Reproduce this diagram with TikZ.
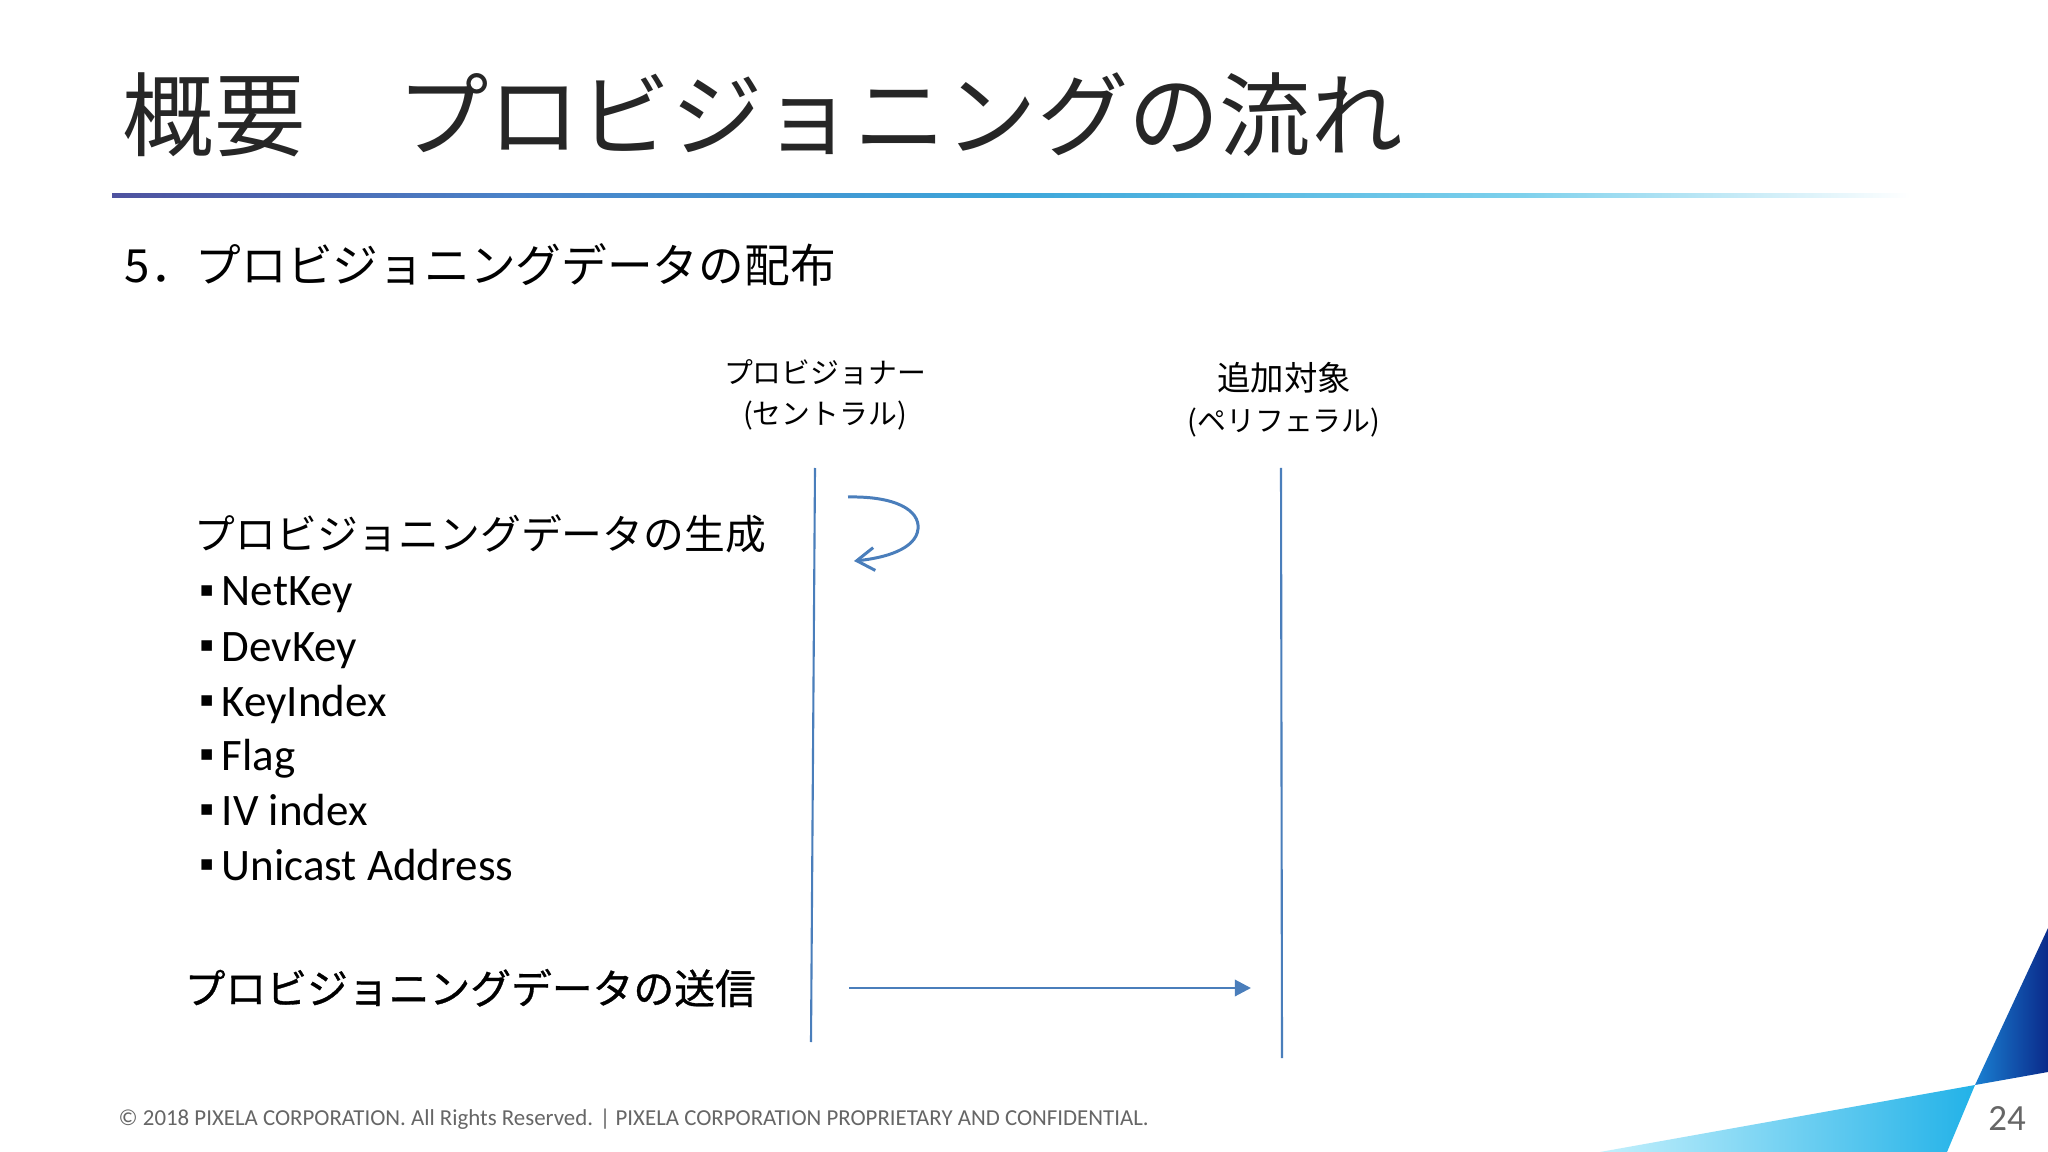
\documentclass[tikz,border=0pt]{standalone}
\usepackage{fontspec}
\setmainfont{Carlito}
\newfontfamily\jpfont{Noto Sans CJK JP}
\newfontfamily\jpfontdick{Noto Sans CJK JP}[FakeBold=0.8]
\newfontfamily\zeichenfont{DejaVu Sans}
\usetikzlibrary{arrows.meta}

\definecolor{linienblau}{HTML}{4A7EBB}
\definecolor{titelgrau}{HTML}{262626}
\definecolor{fussgrau}{HTML}{666666}
\definecolor{rA}{HTML}{4E529F}
\definecolor{rB}{HTML}{4A82C8}
\definecolor{rC}{HTML}{3CA6DA}
\definecolor{rD}{HTML}{7CD0EC}
\definecolor{dunkelL}{HTML}{1A80D2}
\definecolor{dunkelR}{HTML}{0A2A8A}
\definecolor{hellL}{HTML}{C4F0FC}
\definecolor{hellR}{HTML}{22B2E8}
\pgfdeclarehorizontalshading{linienverlauf}{100bp}{color(0bp)=(rA); color(25bp)=(rA); color(36bp)=(rB); color(50bp)=(rC); color(64bp)=(rD); color(75bp)=(white); color(100bp)=(white)}
\newcommand{\quadrat}{{\zeichenfont\fontsize{6}{7}\selectfont\raisebox{2.6pt}{▪}}\kern2.2pt}

\begin{document}
\begin{tikzpicture}[x=0.01cm, y=-0.01cm,
		lebenslinie/.style={draw=linienblau, line width=0.6pt},
		schleife/.style={draw=linienblau, line width=0.85pt, -{Straight Barb[length=5pt,width=6.5pt]}},
		nachricht/.style={draw=linienblau, line width=0.85pt, -{Triangle[length=4.6pt,width=4.6pt]}},
		kopf/.style={font=\jpfont\fontsize{8.2}{11.7}\selectfont, align=center, inner sep=0},
		schritt/.style={anchor=west, inner sep=0, font=\jpfont\fontsize{11.6}{13}\selectfont},
		punkt/.style={anchor=base west, inner sep=0, font=\fontsize{12.8}{14}\selectfont}]
		
		\useasboundingbox[fill=white] (0,0) rectangle (2048,1152);
		
		% Titel
		\node[anchor=west, inner sep=0, text=titelgrau, font=\jpfont\fontsize{26}{30}\selectfont] (titel) at (122,115) {概要　プロビジョニングの流れ};
		\shade[shading=linienverlauf] (112,194) rectangle (1910,198);
		
		% Untertitel
		\node[anchor=west, inner sep=0, font=\jpfont\fontsize{13}{15}\selectfont] (untertitel) at (124,265) {5．プロビジョニングデータの配布};
		
		% Teilnehmer
		\node[kopf] (zentral) at (825,395) {プロビジョナー\\(セントラル)};
		\node[kopf] (peripher) at (1284,400) {{\fontsize{9.5}{11.7}\selectfont 追加対象}\\(ペリフェラル)};
		
		% Lebenslinien
		\coordinate (zentralOben) at (815,468);
		\coordinate (zentralUnten) at (811,1042);
		\coordinate (peripherOben) at (1281,468);
		\coordinate (peripherUnten) at (1282,1058);
		\draw[lebenslinie] (zentralOben) -- (zentralUnten);
		\draw[lebenslinie] (peripherOben) -- (peripherUnten);
		
		% Erzeugung der Daten
		\node[schritt] (erzeugen) at (194,534) {プロビジョニングデータの生成};
		\node[punkt] (netkey) at (199,606) {\quadrat NetKey};
		\node[punkt] (devkey) at (199,661) {\quadrat DevKey};
		\node[punkt] (keyindex) at (199,716) {\quadrat KeyIndex};
		\node[punkt] (flag) at (199,770) {\quadrat Flag};
		\node[punkt] (ivindex) at (199,825) {\quadrat IV index};
		\node[punkt] (unicast) at (199,880) {\quadrat Unicast Address};
		
		% Schleife an der Zentrale
		\coordinate (schleifeStart) at (848,497);
		\coordinate (schleifeRand) at (918,529);
		\coordinate (schleifeEnde) at (854,561);
		\draw[schleife] (schleifeStart) .. controls (895,496) and (920,510) .. (schleifeRand)
			.. controls (916,549) and (885,558) .. (schleifeEnde);
		
		% Senden
		\node[schritt, font=\jpfontdick\fontsize{11.6}{13}\selectfont] (senden) at (184,988) {プロビジョニングデータの送信};
		\coordinate (sendStart) at (849,988);
		\coordinate (sendZiel) at (1251,988);
		\draw[nachricht] (sendStart) -- (sendZiel);
		
		% Fusszeile
		\node[anchor=west, inner sep=0, text=fussgrau, font=\fontsize{6.5}{8}\selectfont] (fuss) at (118,1119) {© 2018 PIXELA CORPORATION. All Rights Reserved. | PIXELA CORPORATION PROPRIETARY AND CONFIDENTIAL.};
		\node[inner sep=0, text=fussgrau, font=\fontsize{10.5}{12}\selectfont] (seite) at (2007,1119) {24};
		
		% Dreiecke rechts unten
		\shade[left color=dunkelL, right color=dunkelR] (2048,928) -- (1975,1085) -- (2048,1072) -- cycle;
		\shade[left color=hellL, right color=hellR] (1600,1152) -- (1975,1085) -- (1947,1152) -- cycle;
	\end{tikzpicture}
\end{document}
